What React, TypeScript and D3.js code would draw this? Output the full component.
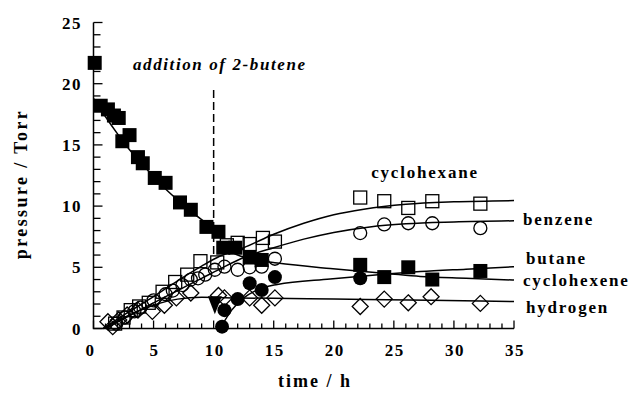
import * as d3 from 'd3';

// ---- data ----
// cyclohexene (filled squares)
const cyclohexeneT = [0.1, 0.6, 1.2, 1.7, 2.1, 2.4, 3.0, 3.7, 4.1, 5.1, 6.0, 7.2, 8.1, 9.4, 10.4, 10.8, 11.8, 13.0, 14.0, 22.2, 24.2, 26.2, 28.2, 32.2];
const cyclohexeneV = [21.7, 18.2, 17.9, 17.4, 17.2, 15.3, 15.8, 14.0, 13.5, 12.3, 11.9, 10.3, 9.7, 8.3, 7.9, 6.6, 6.6, 5.8, 5.6, 5.2, 4.2, 5.0, 4.0, 4.7];
// butane (filled circles)
const butaneT = [10.7, 10.9, 12.0, 13.0, 14.0, 15.1, 22.2];
const butaneV = [0.15, 1.5, 2.4, 3.7, 3.15, 4.2, 4.1];
// 2-butene (filled triangle)
const buteneT = [10.1];
const buteneV = [1.9];
// hydrogen (open diamonds)
const hydrogenT = [1.2, 1.6, 2.1, 2.8, 3.7, 4.9, 5.9, 6.9, 8.1, 10.4, 10.9, 13.0, 14.0, 15.1, 22.2, 24.2, 26.2, 28.1, 32.2];
const hydrogenV = [0.55, 0.15, 0.7, 1.1, 1.5, 1.4, 1.9, 2.5, 2.9, 2.7, 2.5, 2.5, 1.9, 2.5, 1.8, 2.4, 2.1, 2.6, 2.05];
// benzene (open circles)
const benzeneT = [1.9, 2.6, 3.4, 3.9, 5.0, 6.0, 6.6, 7.4, 8.1, 8.7, 9.3, 10.1, 10.9, 12.0, 13.0, 14.0, 15.1, 22.2, 24.2, 26.2, 28.2, 32.2];
const benzeneV = [0.4, 0.9, 1.4, 1.7, 2.3, 2.8, 3.1, 3.55, 4.0, 4.1, 4.4, 4.8, 5.05, 4.8, 5.0, 5.05, 5.7, 7.8, 8.5, 8.6, 8.6, 8.2];
// cyclohexane (open squares)
const cyclohexaneT = [1.8, 2.5, 3.1, 3.8, 4.6, 5.75, 6.8, 7.8, 8.9, 10.3, 11.1, 12.0, 13.0, 14.1, 15.1, 22.2, 24.2, 26.2, 28.2, 32.2];
const cyclohexaneV = [0.4, 0.9, 1.5, 1.8, 2.1, 3.0, 3.8, 4.4, 5.5, 5.4, 6.8, 7.0, 6.9, 7.4, 7.1, 10.7, 10.4, 9.85, 10.4, 10.2];

// fitted curves
const fitCyclohexenePreT = [0, 1, 2, 3, 4, 5, 6, 7, 8, 9, 10, 10.4];
const fitCyclohexenePreV = [18.8, 17.3, 15.9, 14.6, 13.5, 12.4, 11.4, 10.5, 9.65, 8.9, 8.2, 7.9];
const fitCyclohexenePostT = [10.8, 12, 13.5, 15.3, 19.7, 24.4, 27.2, 31, 35];
const fitCyclohexenePostV = [6.6, 6.0, 5.6, 5.35, 4.9, 4.5, 4.25, 4.1, 3.96];
const fitButaneT = [10.6, 11.5, 12.5, 13.5, 15.3, 19.7, 24.4, 27.2, 31, 35];
const fitButaneV = [0.1, 1.5, 2.5, 3.1, 3.6, 4.05, 4.45, 4.65, 4.85, 5.05];
const fitHydrogenT = [0.8, 3, 5, 7, 9, 12, 20, 28, 35];
const fitHydrogenV = [0, 1.1, 1.9, 2.4, 2.55, 2.5, 2.4, 2.3, 2.2];
const fitBenzeneT = [1, 3, 5, 7, 9, 10.5, 12.5, 15, 17.5, 20, 23, 26, 30, 35];
const fitBenzeneV = [0, 1.05, 2.1, 3.1, 4.1, 4.85, 5.8, 6.6, 7.3, 7.85, 8.3, 8.55, 8.7, 8.8];
const fitCyclohexaneT = [0.8, 3, 5, 7, 9, 10.5, 12.5, 15, 17.5, 20, 22.5, 26, 30, 35];
const fitCyclohexaneV = [0, 1.4, 2.6, 3.9, 5.1, 5.9, 6.6, 7.7, 8.6, 9.3, 9.75, 10.15, 10.35, 10.45];

const xTicks = [0, 5, 10, 15, 20, 25, 30, 35];
const yTicks = [0, 5, 10, 15, 20, 25];
const additionTime = 10;

const seriesLabels = [
  { text: 'cyclohexane', x: 425, y: 178, anchor: 'middle' },
  { text: 'benzene', x: 523, y: 225, anchor: 'start' },
  { text: 'butane', x: 526, y: 264, anchor: 'start' },
  { text: 'cyclohexene', x: 523, y: 286, anchor: 'start' },
  { text: 'hydrogen', x: 526, y: 313, anchor: 'start' },
];

const W = 635;
const H = 397;
const FONT = '"Liberation Serif", "Times New Roman", serif';

const zip = (t: number[], v: number[]) => t.map((d, i) => [d, v[i]] as [number, number]);

export default function App() {
  const x = d3.scaleLinear().domain([0, 35]).range([93.5, 514]);
  const y = d3.scaleLinear().domain([0, 25]).range([328.5, 22.5]);

  const line = d3.line<[number, number]>()
    .x(d => x(d[0]))
    .y(d => y(d[1]))
    .curve(d3.curveMonotoneX);

  const fits = [
    zip(fitCyclohexenePreT, fitCyclohexenePreV),
    zip(fitCyclohexenePostT, fitCyclohexenePostV),
    zip(fitButaneT, fitButaneV),
    zip(fitHydrogenT, fitHydrogenV),
    zip(fitBenzeneT, fitBenzeneV),
    zip(fitCyclohexaneT, fitCyclohexaneV),
  ];

  const xMinor = d3.range(0, 36, 1);
  const yMinor = d3.range(0, 26, 1);
  const x0 = x(0);
  const y0 = y(0);

  const sq = 13;
  const r = 6.5;
  const dm = 8;

  return (
    <svg width={W} height={H} style={{ position: 'absolute', left: 0, top: 0, background: '#fff' }}>
      <rect width={W} height={H} fill="#fff" />
      {/* axes */}
      <g stroke="#000" strokeWidth={1.5} fill="none">
        <path d={`M${x0},${y(25)}V${y0}H${x(35)}`} />
        {yMinor.map(v => (
          <line key={'ym' + v} x1={x0} x2={x0 + (v % 5 === 0 ? 9 : 7)} y1={y(v)} y2={y(v)} strokeWidth={1.3} />
        ))}
        {xMinor.map(t => (
          <line key={'xm' + t} x1={x(t)} x2={x(t)} y1={y0} y2={y0 - (t % 5 === 0 ? 8 : 5)} strokeWidth={1.3} />
        ))}
      </g>
      <g fontFamily={FONT} fontWeight="bold" fontSize={17} fill="#000" letterSpacing={1.5}>
        {yTicks.map(v => (
          <text key={'yl' + v} x={82} y={y(v) + 6} textAnchor="end">{v}</text>
        ))}
        {xTicks.map(t => (
          <text key={'xl' + t} x={t === 0 ? x(t) - 3 : x(t) + 1} y={356} textAnchor="middle">{t}</text>
        ))}
      </g>
      <text x={315} y={387} fontFamily={FONT} fontWeight="bold" fontSize={18} letterSpacing={2} textAnchor="middle">time / h</text>
      <text transform={`translate(27,184) rotate(-90)`} fontFamily={FONT} fontWeight="bold" fontSize={18} letterSpacing={2.4} textAnchor="middle">pressure / Torr</text>

      {/* addition marker */}
      <line x1={x(additionTime)} x2={x(additionTime)} y1={90} y2={255} stroke="#000" strokeWidth={1.5} strokeDasharray="8,4" />
      <text x={133} y={70} fontFamily={FONT} fontWeight="bold" fontStyle="italic" fontSize={17} letterSpacing={1.6}>addition of 2-butene</text>

      {/* fitted curves */}
      <g fill="none" stroke="#000" strokeWidth={1.5}>
        {fits.map((f, i) => <path key={'f' + i} d={line(f) || ''} />)}
      </g>

      {/* markers */}
      <g fill="none" stroke="#000" strokeWidth={1.3}>
        {zip(hydrogenT, hydrogenV).map((d, i) => (
          <path key={'h' + i} d={`M${x(d[0])},${y(d[1]) - dm}L${x(d[0]) + dm},${y(d[1])}L${x(d[0])},${y(d[1]) + dm}L${x(d[0]) - dm},${y(d[1])}Z`} />
        ))}
        {zip(benzeneT, benzeneV).map((d, i) => (
          <circle key={'b' + i} cx={x(d[0])} cy={y(d[1])} r={r} />
        ))}
        {zip(cyclohexaneT, cyclohexaneV).map((d, i) => (
          <rect key={'c' + i} x={x(d[0]) - sq / 2} y={y(d[1]) - sq / 2} width={sq} height={sq} />
        ))}
      </g>
      <g fill="#000" stroke="none">
        {zip(butaneT, butaneV).map((d, i) => (
          <circle key={'bu' + i} cx={x(d[0])} cy={y(d[1])} r={r + 0.5} />
        ))}
        {zip(cyclohexeneT, cyclohexeneV).map((d, i) => (
          <rect key={'ce' + i} x={x(d[0]) - 7} y={y(d[1]) - 7} width={14} height={14} />
        ))}
        {zip(buteneT, buteneV).map((d, i) => (
          <path key={'t' + i} d={`M${x(d[0]) - 7},${y(d[1]) - 9}L${x(d[0]) + 7},${y(d[1]) - 9}L${x(d[0])},${y(d[1]) + 9}Z`} />
        ))}
      </g>

      <g fontFamily={FONT} fontWeight="bold" fontSize={17} letterSpacing={1.8} fill="#000">
        {seriesLabels.map(l => (
          <text key={l.text} x={l.x} y={l.y} textAnchor={l.anchor as any}>{l.text}</text>
        ))}
      </g>
    </svg>
  );
}
